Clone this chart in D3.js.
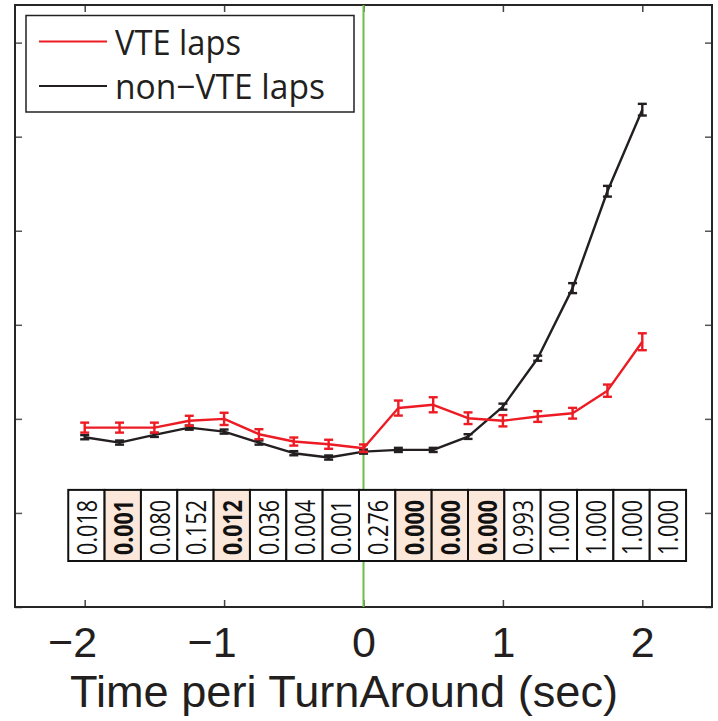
<!DOCTYPE html>
<html>
<head>
<meta charset="utf-8">
<script src="https://cdn.jsdelivr.net/npm/d3@7"></script>
<style>
  html, body { margin: 0; padding: 0; background: #fff; }
  svg { display: block; font-family: "Open Sans", "Noto Sans", sans-serif; }
</style>
</head>
<body>
<svg id="chart" width="718" height="721"></svg>
<script>
// Time bins around the turn-around point (sec)
const times = [-2, -1.75, -1.5, -1.25, -1, -0.75, -0.5, -0.25, 0, 0.25, 0.5, 0.75, 1, 1.25, 1.5, 1.75, 2];

// Mean and SEM per bin, VTE laps
const vteMean = [1.907, 1.907, 1.907, 1.98, 2.0, 1.837, 1.759, 1.73, 1.688, 2.115, 2.15, 2.007, 1.98, 2.025, 2.06, 2.30, 2.82];
const vteErr  = [0.053, 0.053, 0.053, 0.053, 0.065, 0.053, 0.043, 0.048, 0.04, 0.08, 0.08, 0.062, 0.06, 0.057, 0.057, 0.065, 0.09];

// Mean and SEM per bin, non-VTE laps
const nonMean = [1.805, 1.748, 1.83, 1.907, 1.865, 1.748, 1.635, 1.589, 1.652, 1.67, 1.67, 1.812, 2.13, 2.645, 3.39, 4.42, 5.287];
const nonErr  = [0.022, 0.022, 0.022, 0.022, 0.022, 0.022, 0.022, 0.022, 0.022, 0.022, 0.022, 0.025, 0.032, 0.027, 0.053, 0.057, 0.062];

// Per-bin p-values and which ones are flagged
const pValues = ["0.018", "0.001", "0.080", "0.152", "0.012", "0.036", "0.004", "0.001", "0.276",
                 "0.000", "0.000", "0.000", "0.993", "1.000", "1.000", "1.000", "1.000"];
const flagged = [false, true, false, false, true, false, false, false, false,
                 true, true, true, false, false, false, false, false];

// Axis ticks
const xTicks = [-2, -1, 0, 1, 2];
const yTicks = [0, 1, 2, 3, 4, 5, 6];

const seriesNames = ["VTE laps", "non\u2212VTE laps"];

const W = 718, H = 721;
const margin = { left: 15, top: 5, right: 6, bottom: 114 };
const RED = "#ed1c24", BLACK = "#231f20", GREEN = "#6cbe45", PEACH = "#fce8da", AXIS = "#262626";
const AXIS_FONT = "'Liberation Sans', Arial, sans-serif";

const svg = d3.select("#chart");
const x = d3.scaleLinear().domain([-2.5, 2.5]).range([margin.left, W - margin.right]);
const y = d3.scaleLinear().domain([0, 6.4]).range([H - margin.bottom, margin.top]);

// Axes: ticks point inward on all four sides
const gx = svg.append("g").attr("transform", `translate(0,${y(0)})`)
  .call(d3.axisBottom(x).tickValues(xTicks).tickSizeInner(-7).tickSizeOuter(0)
        .tickFormat(d => d < 0 ? "\u2212" + Math.abs(d) : String(d)));
gx.select(".domain").remove();
gx.selectAll(".tick line").attr("stroke", "#444").attr("stroke-width", 1.5);
gx.selectAll(".tick text")
  .attr("y", 50).attr("dy", null)
  .attr("font-size", 43).attr("fill", "#231f20")
  .attr("font-family", AXIS_FONT)
  .each(function () {
    const t = this.textContent;
    if (t.startsWith("\u2212")) {
      // keep the digit centred on its tick, the minus hangs to the left
      const w = this.getSubStringLength(0, 1);
      d3.select(this).attr("dx", -w / 2);
    }
  });

const gxTop = svg.append("g").attr("transform", `translate(0,${y(6.4)})`)
  .call(d3.axisTop(x).tickValues(xTicks).tickSizeInner(-7).tickSizeOuter(0).tickFormat(""));
gxTop.select(".domain").remove();
gxTop.selectAll(".tick line").attr("stroke", "#444").attr("stroke-width", 1.5);

const gyL = svg.append("g").attr("transform", `translate(${x(-2.5)},0)`)
  .call(d3.axisLeft(y).tickValues(yTicks).tickSizeInner(-7).tickSizeOuter(0).tickFormat(""));
gyL.select(".domain").remove();
gyL.selectAll(".tick line").attr("stroke", "#555").attr("stroke-width", 1.5);

const gyR = svg.append("g").attr("transform", `translate(${x(2.5)},0)`)
  .call(d3.axisRight(y).tickValues(yTicks).tickSizeInner(-7).tickSizeOuter(0).tickFormat(""));
gyR.select(".domain").remove();
gyR.selectAll(".tick line").attr("stroke", "#555").attr("stroke-width", 1.5);

// Plot frame
svg.append("rect")
  .attr("x", x(-2.5)).attr("y", y(6.4))
  .attr("width", x(2.5) - x(-2.5)).attr("height", y(0) - y(6.4))
  .attr("fill", "none").attr("stroke", AXIS).attr("stroke-width", 2);

// Turn-around marker
svg.append("line")
  .attr("x1", x(0)).attr("x2", x(0))
  .attr("y1", y(6.4)).attr("y2", y(0))
  .attr("stroke", GREEN).attr("stroke-width", 2);

// p-value table laid along the time axis
const tableStart = -2.118, cellW = 0.2607, tableTop = 1.245, tableBottom = 0.489;
const table = svg.append("g");
pValues.forEach((p, i) => {
  const x0 = x(tableStart + i * cellW), x1 = x(tableStart + (i + 1) * cellW);
  table.append("rect")
    .attr("x", x0).attr("y", y(tableTop))
    .attr("width", x1 - x0).attr("height", y(tableBottom) - y(tableTop))
    .attr("fill", flagged[i] ? PEACH : "#fff")
    .attr("stroke", "#111").attr("stroke-width", 2);
  const cx = (x0 + x1) / 2, cy = (y(tableTop) + y(tableBottom)) / 2 + 2;
  table.append("text")
    .attr("transform", `translate(${cx},${cy}) rotate(-90)`)
    .attr("text-anchor", "middle").attr("dominant-baseline", "central")
    .attr("font-size", 27)
    .attr("font-weight", flagged[i] ? "bold" : "normal")
    .attr("textLength", 55).attr("lengthAdjust", "spacingAndGlyphs")
    .attr("fill", "#111")
    .text(p);
});

// Lines with error bars
function drawSeries(mean, err, color) {
  const pts = times.map((t, i) => ({ t, m: mean[i], e: err[i] }));
  const g = svg.append("g");
  g.append("path")
    .datum(pts)
    .attr("fill", "none").attr("stroke", color).attr("stroke-width", 2.4)
    .attr("stroke-linejoin", "round")
    .attr("d", d3.line().x(d => x(d.t)).y(d => y(d.m)));
  const eb = g.selectAll("g.eb").data(pts).join("g").attr("class", "eb")
    .attr("stroke", color).attr("stroke-width", 2.4);
  eb.append("line")
    .attr("x1", d => x(d.t)).attr("x2", d => x(d.t))
    .attr("y1", d => y(d.m - d.e)).attr("y2", d => y(d.m + d.e));
  eb.append("line")
    .attr("x1", d => x(d.t) - 4.5).attr("x2", d => x(d.t) + 4.5)
    .attr("y1", d => y(d.m - d.e)).attr("y2", d => y(d.m - d.e));
  eb.append("line")
    .attr("x1", d => x(d.t) - 4.5).attr("x2", d => x(d.t) + 4.5)
    .attr("y1", d => y(d.m + d.e)).attr("y2", d => y(d.m + d.e));
}
drawSeries(nonMean, nonErr, BLACK);
drawSeries(vteMean, vteErr, RED);

// Legend
const lg = svg.append("g");
lg.append("rect")
  .attr("x", 26).attr("y", 15.5).attr("width", 328).attr("height", 96.5)
  .attr("fill", "#fff").attr("stroke", "#222").attr("stroke-width", 1.5);
const legendRows = [
  { name: seriesNames[0], color: RED, yLine: 41.5, yText: 55, len: 126 },
  { name: seriesNames[1], color: BLACK, yLine: 86, yText: 99, len: 210 }
];
legendRows.forEach(r => {
  lg.append("line").attr("x1", 39).attr("x2", 107).attr("y1", r.yLine).attr("y2", r.yLine)
    .attr("stroke", r.color).attr("stroke-width", 2.2);
  lg.append("text").attr("x", 115).attr("y", r.yText)
    .attr("font-size", 35).attr("fill", "#231f20")
    .attr("textLength", r.len).attr("lengthAdjust", "spacingAndGlyphs")
    .text(r.name);
});

// X-axis title
svg.append("text")
  .attr("x", 344).attr("y", 707)
  .attr("text-anchor", "middle")
  .attr("font-family", AXIS_FONT)
  .attr("font-size", 44).attr("fill", "#231f20")
  .attr("textLength", 548).attr("lengthAdjust", "spacingAndGlyphs")
  .text("Time peri TurnAround (sec)");
</script>
</body>
</html>
